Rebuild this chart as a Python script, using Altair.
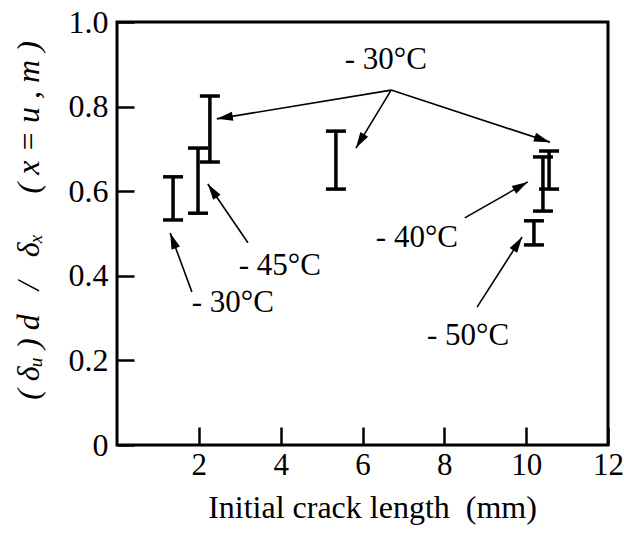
import altair as alt
import pandas as pd
import numpy as np

# --- data ---
bar_x = [1.37, 1.98, 2.27, 5.35, 10.56, 10.41, 10.19]
bar_lo = [0.532, 0.548, 0.669, 0.605, 0.605, 0.553, 0.473]
bar_hi = [0.634, 0.702, 0.825, 0.742, 0.695, 0.681, 0.530]

label_text = ["- 30°C", "- 45°C", "- 30°C", "- 40°C", "- 50°C"]
label_x = [6.57, 3.98, 2.83, 7.33, 8.58]
label_y = [0.910, 0.423, 0.336, 0.489, 0.258]

arrow_x0 = [6.70, 6.70, 6.70, 3.20, 1.83, 8.50, 8.80]
arrow_y0 = [0.839, 0.839, 0.839, 0.478, 0.362, 0.537, 0.326]
arrow_x1 = [2.44, 5.84, 10.58, 2.22, 1.30, 10.04, 9.90]
arrow_y1 = [0.771, 0.702, 0.716, 0.617, 0.501, 0.622, 0.492]

x_ticks = [2, 4, 6, 8, 10, 12]
y_ticks = [0, 0.2, 0.4, 0.6, 0.8, 1.0]

W, H = 491, 423
FONT = "Liberation Serif"

bars = pd.DataFrame({"x": bar_x, "lo": bar_lo, "hi": bar_hi})
caps = pd.concat([
    pd.DataFrame({"x": bar_x, "y": bar_lo}),
    pd.DataFrame({"x": bar_x, "y": bar_hi}),
])
labels = pd.DataFrame({"x": label_x, "y": label_y, "t": label_text})

rows = []
for i, (a, b, c, d) in enumerate(zip(arrow_x0, arrow_y0, arrow_x1, arrow_y1)):
    rows.append({"id": i, "o": 0, "x": a, "y": b})
    rows.append({"id": i, "o": 1, "x": c, "y": d})
arrows = pd.DataFrame(rows)

heads = pd.DataFrame({"x": arrow_x1, "y": arrow_y1})
dx = (np.array(arrow_x1) - np.array(arrow_x0)) * W / 12
dy = -(np.array(arrow_y1) - np.array(arrow_y0)) * H
heads["angle"] = np.mod(np.degrees(np.arctan2(dx, -dy)), 360)

xs = alt.Scale(domain=[0, 12], nice=False, zero=False)
ys = alt.Scale(domain=[0, 1], nice=False)

x_axis = alt.Axis(
    values=x_ticks, offset=-18, tickSize=18, tickWidth=2.5, tickColor="black",
    domain=False, grid=False, labelColor="black",
    labelFont=FONT, labelFontSize=31,
    labelPadding=5, labelFlush=False,
    title="Initial crack length \u00a0(mm)", titleFont=FONT, titleFontSize=32,
    titleFontWeight="normal", titleColor="black", titleX=255, titleY=80,
    titleBaseline="middle", titleAlign="center",
)
y_axis = alt.Axis(
    values=y_ticks, offset=-17, tickSize=17, tickWidth=2.5, tickColor="black",
    domain=False, grid=False, labelColor="black",
    labelFont=FONT, labelFontSize=32,
    labelPadding=9, labelFlush=False,
    labelExpr="datum.value == 0 ? '0' : format(datum.value, '.1f')",
    title="( δᵤ ) d \u00a0 / \u00a0 δₓ \u00a0\u00a0\u00a0 ( x = u , m )", titleFont=FONT, titleFontSize=32,
    titleFontWeight="normal", titleFontStyle="italic", titleColor="black",
    titleAngle=270, titleX=-106, titleY=198, titleBaseline="middle", titleAlign="center",
)

base_x = alt.X("x:Q", scale=xs, axis=x_axis)
base_y = alt.Y("y:Q", scale=ys, axis=y_axis)

rules = alt.Chart(bars).mark_rule(color="black", strokeWidth=3.5).encode(
    x=alt.X("x:Q", scale=xs, axis=x_axis),
    y=alt.Y("lo:Q", scale=ys, axis=y_axis),
    y2="hi:Q",
)
cap_marks = alt.Chart(caps).mark_tick(
    color="black", orient="horizontal", size=20, thickness=3.5, opacity=1
).encode(x=base_x, y=base_y)

arrow_lines = alt.Chart(arrows).mark_line(color="black", strokeWidth=1.6).encode(
    x=base_x, y=base_y, detail="id:N", order="o:Q"
)
arrow_heads = alt.Chart(heads).mark_point(
    shape="M0,0L-0.45,1.6L0.45,1.6Z", size=400, filled=True, color="black",
    opacity=1, strokeWidth=0,
).encode(x=base_x, y=base_y, angle=alt.Angle("angle:Q", scale=None))

texts = alt.Chart(labels).mark_text(
    font=FONT, fontSize=31, align="center", baseline="middle", color="black"
).encode(x=base_x, y=base_y, text="t:N")

chart = alt.layer(rules, cap_marks, arrow_lines, arrow_heads, texts).properties(
    width=W, height=H,
    autosize=alt.AutoSizeParams(type="none"),
    padding={"left": 117, "top": 22, "right": 16, "bottom": 88},
    background="white",
).configure_view(stroke="black", strokeWidth=3)

chart.save("out.html", embed_options={"renderer": "svg", "actions": False})
